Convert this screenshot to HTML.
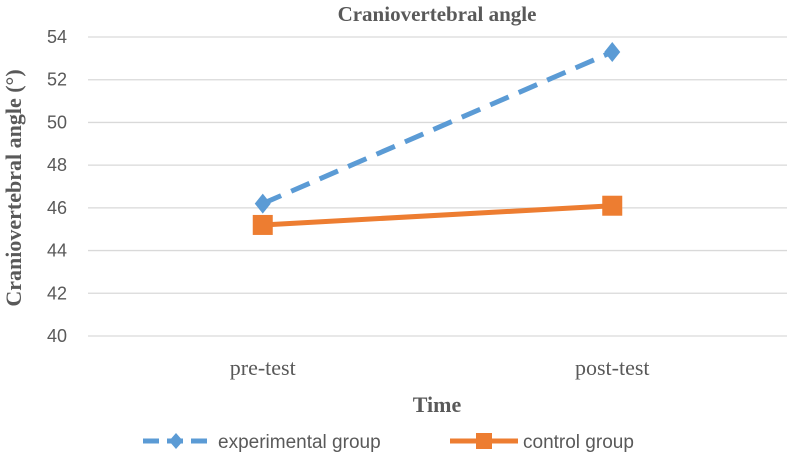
<!DOCTYPE html>
<html><head><meta charset="utf-8"><style>
body{margin:0;background:#fff}
svg{display:block}
</style></head><body>
<svg id="c" width="789" height="456">
<text x="437" y="21" text-anchor="middle" font-family="Liberation Serif" font-weight="bold" font-size="21" fill="#595959">Craniovertebral angle</text>
<text transform="translate(21,188) rotate(-90)" text-anchor="middle" font-family="Liberation Serif" font-weight="bold" font-size="22" fill="#595959">Craniovertebral angle (°)</text>
<text x="437" y="412" text-anchor="middle" font-family="Liberation Serif" font-weight="bold" font-size="22" fill="#595959">Time</text>
<g id="grid"></g><g id="xl"></g><g id="series"></g>
<g>
<g>
<line x1="143" y1="441" x2="207" y2="441" stroke="#5b9bd5" stroke-width="5" stroke-dasharray="16,8"/>
<path d="M176 433 L183 441 L176 449 L169 441Z" fill="#5b9bd5"/>
<text x="218" y="448" font-family="Liberation Sans" font-size="19" fill="#595959">experimental group</text></g>
<g>
<line x1="450" y1="441" x2="518" y2="441" stroke="#ed7d31" stroke-width="5"/>
<rect x="476" y="433" width="16" height="16" fill="#ed7d31"/>
<text x="523" y="448" font-family="Liberation Sans" font-size="19" fill="#595959">control group</text></g>
</g>
</svg>
<script>
const categories=["pre-test","post-test"];
const experimental=[46.2,53.3];
const control=[45.2,46.1];
const yTicks=[40,42,44,46,48,50,52,54];
const NS="http://www.w3.org/2000/svg";
const x0=88,x1=787,yTop=37,yBot=336,ymin=40,ymax=54;
const xs=i=>x0+(x1-x0)/categories.length*(i+0.5);
const ys=v=>yBot-(v-ymin)/(ymax-ymin)*(yBot-yTop);
function mk(t,a,p){const e=document.createElementNS(NS,t);for(const k in a)e.setAttribute(k,a[k]);p.appendChild(e);return e;}
const g=document.getElementById('grid');
yTicks.forEach(v=>{
 const l=mk('line',{x1:x0,x2:x1,y1:ys(v),y2:ys(v),stroke:'#d9d9d9','stroke-width':1.3},g);
 
 
 const t=mk('text',{x:67,y:ys(v)+6,'text-anchor':'end','font-family':'Liberation Sans','font-size':18,fill:'#595959'},g);
 t.textContent=v;
 
 
});
const xl=document.getElementById('xl');
categories.forEach((c,i)=>{
 const t=mk('text',{x:xs(i),y:375,'text-anchor':'middle','font-family':'Liberation Serif','font-size':22,fill:'#595959'},xl);
 t.textContent=c;
 
 
});
const s=document.getElementById('series');
const pe=experimental.map((v,i)=>xs(i)+','+ys(v)).join(' ');
const l1=mk('polyline',{points:pe,fill:'none',stroke:'#5b9bd5','stroke-width':5,'stroke-dasharray':'20,11'},s);


experimental.forEach((v,i)=>{const x=xs(i),y=ys(v);
 const m=mk('path',{d:`M${x} ${y-10} L${x+8} ${y} L${x} ${y+10} L${x-8} ${y}Z`,fill:'#5b9bd5'},s);
 
 });
const pc=control.map((v,i)=>xs(i)+','+ys(v)).join(' ');
const l2=mk('polyline',{points:pc,fill:'none',stroke:'#ed7d31','stroke-width':5},s);


control.forEach((v,i)=>{const x=xs(i),y=ys(v);
 const m=mk('rect',{x:x-10,y:y-10,width:20,height:20,fill:'#ed7d31'},s);
 
 });
</script>
</body></html>
